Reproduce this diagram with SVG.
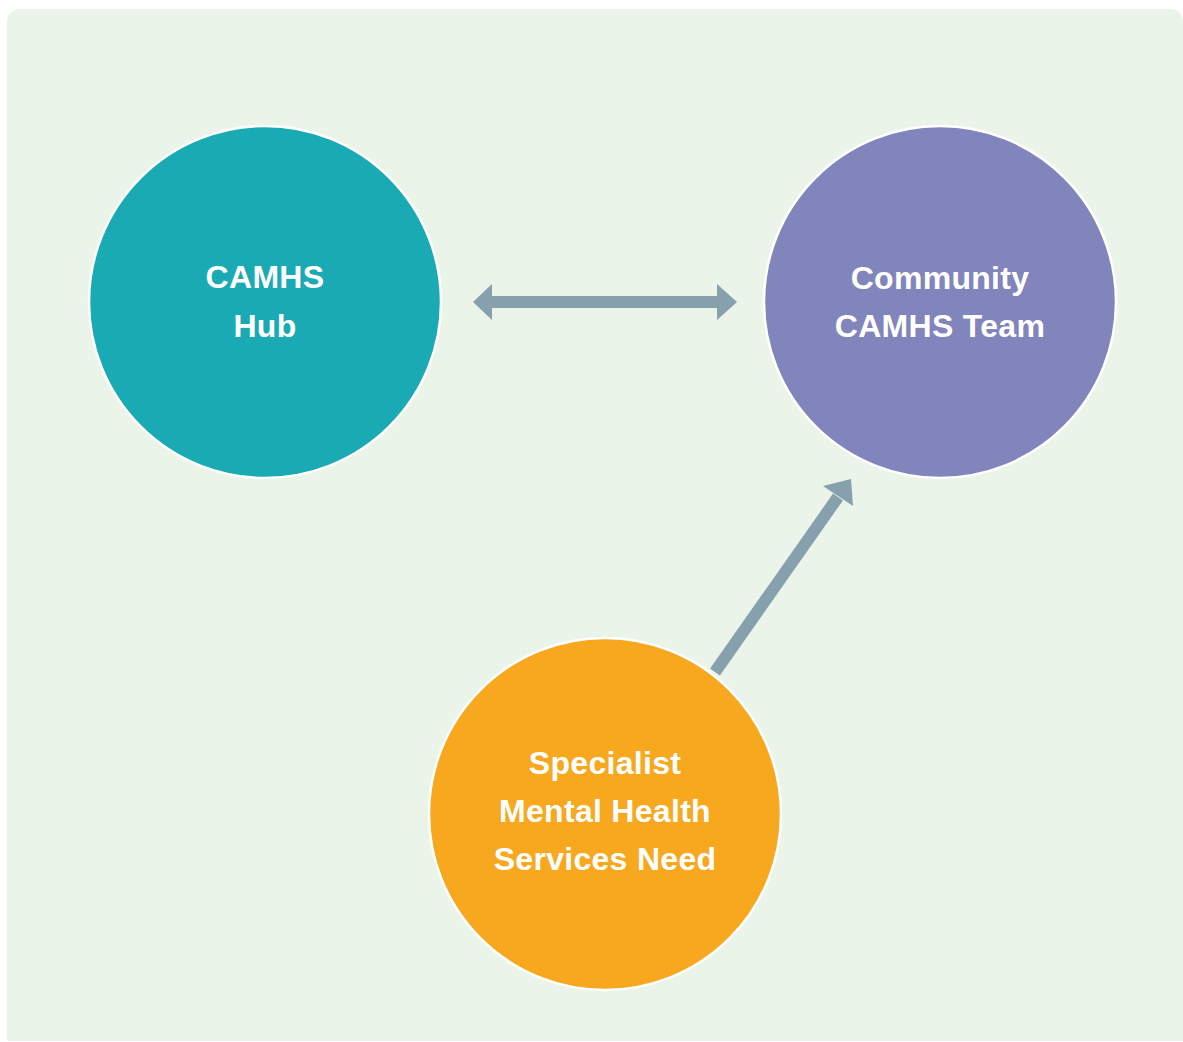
<svg xmlns="http://www.w3.org/2000/svg" width="1183" height="1042" viewBox="0 0 1183 1042">
  <style>
    .node circle { stroke: #ffffff; stroke-width: 2.5; }
    .label { font-family: "Liberation Sans", Arial, Helvetica, sans-serif; font-weight: bold; font-size: 32px; letter-spacing: 0.3px; fill: #ffffff; text-anchor: middle; }
    .arrow { fill: #87A0AD; }
  </style>
  <rect width="1183" height="1042" fill="#ffffff"/>
  <!-- panel background, rounded at the top corners -->
  <path d="M7,22 A13,13 0 0 1 20,9 L1170,9 A13,13 0 0 1 1183,22 L1183,1041 L7,1041 Z" fill="#EAF4E8"/>

  <!-- connectors -->
  <g id="connectors">
    <!-- two-way link between hub and community team -->
    <polygon class="arrow" points="473,302 492,284 492,296 717,296 717,284 737,302 717,320 717,308 492,308 492,320"/>
  </g>

  <g id="node-hub" class="node">
    <circle cx="265" cy="302" r="176" fill="#1AAAB3"/>
    <text class="label" x="265" y="288">CAMHS</text>
    <text class="label" x="265" y="337">Hub</text>
  </g>

  <g id="node-community" class="node">
    <circle cx="940" cy="302" r="176" fill="#8185BB"/>
    <text class="label" x="940" y="289">Community</text>
    <text class="label" x="940" y="337">CAMHS Team</text>
  </g>

  <g id="node-specialist" class="node">
    <circle cx="605" cy="814" r="176" fill="#F7A81E"/>
    <text class="label" x="605" y="774">Specialist</text>
    <text class="label" x="605" y="822">Mental Health</text>
    <text class="label" x="605" y="870">Services Need</text>
  </g>

  <g id="connectors-top">
    <!-- referral from specialist need to community team -->
    <line x1="715" y1="672" x2="838" y2="497" stroke="#87A0AD" stroke-width="12"/>
    <polygon class="arrow" points="851,479 853,506 823,486"/>
  </g>
</svg>
